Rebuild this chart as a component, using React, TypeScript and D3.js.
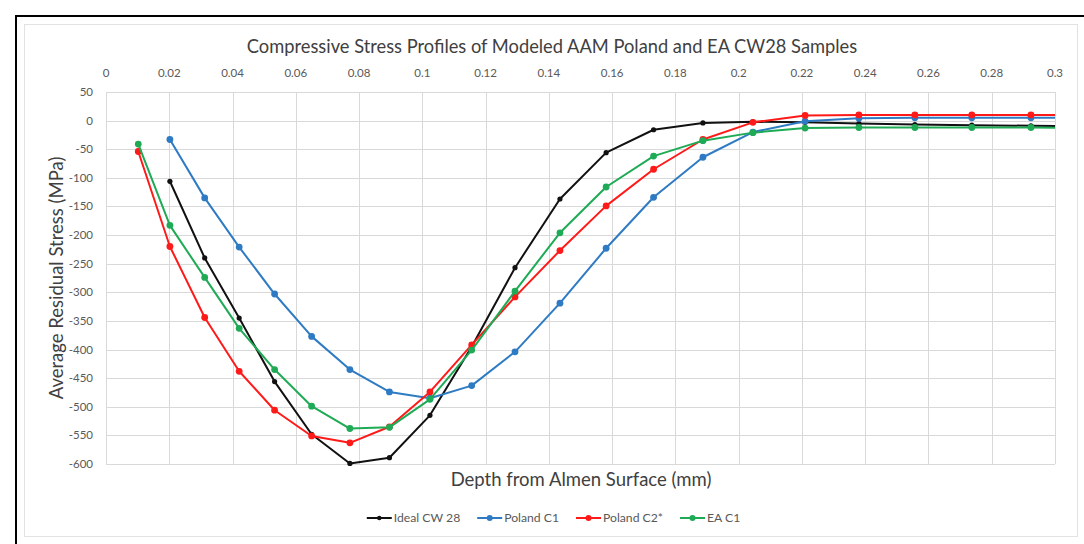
import React, { useEffect, useRef } from "react";
import * as d3 from "d3";

// Depth from the Almen surface (mm) at which each profile is sampled
const depths = [
  0.0102, 0.0202, 0.0312, 0.0421, 0.0533, 0.065, 0.0771, 0.0896, 0.1024, 0.1156, 0.1293,
  0.1435, 0.1581, 0.1731, 0.1887, 0.2045, 0.221, 0.238, 0.2557, 0.2737, 0.2924, 0.3118,
];

// Average residual stress (MPa); null where a profile has no sample
const idealCW28 = [
  null, -106, -240, -345, -456, -548, -599, -589, -515, -395, -257,
  -137, -56, -16, -4, -2, -3, -5, -7, -8, -9, -10,
];
const polandC1 = [
  null, -33, -135, -221, -303, -377, -435, -474, -485, -463, -404,
  -319, -223, -134, -64, -20, -1, 4, 5, 5, 5, 5,
];
const polandC2 = [
  -54, -220, -344, -438, -506, -551, -563, -535, -474, -392, -308,
  -227, -149, -85, -33, -3, 9, 10, 10, 10, 10, 10,
];
const eaC1 = [
  -41, -183, -274, -363, -435, -499, -538, -536, -487, -401, -298,
  -196, -116, -62, -35, -21, -13, -12, -12, -12, -12, -13,
];

const seriesNames = ["Ideal CW 28", "Poland C1", "Poland C2*", "EA C1"];
const seriesValues = [idealCW28, polandC1, polandC2, eaC1];
const seriesColors = ["#111111", "#2E7BC4", "#FF1A1A", "#1FAA55"];
const markerRadius = [2.6, 3.4, 3.4, 3.4];

const xTicks = [0, 0.02, 0.04, 0.06, 0.08, 0.1, 0.12, 0.14, 0.16, 0.18, 0.2, 0.22, 0.24, 0.26, 0.28, 0.3];
const yTicks = [50, 0, -50, -100, -150, -200, -250, -300, -350, -400, -450, -500, -550, -600];

const TITLE = "Compressive Stress Profiles of Modeled AAM Poland and EA CW28 Samples";
const X_TITLE = "Depth from Almen Surface (mm)";
const Y_TITLE = "Average Residual Stress (MPa)";

const W = 1084;
const H = 544;
const FONT = "Lato, 'Open Sans', sans-serif";

export default function App() {
  const ref = useRef<SVGSVGElement | null>(null);

  useEffect(() => {
    const svg = d3.select(ref.current);
    svg.selectAll("*").remove();

    const plot = { left: 106, right: 1055, top: 92, bottom: 464 };
    const x = d3.scaleLinear().domain([0, 0.3]).range([plot.left, plot.right]);
    const y = d3.scaleLinear().domain([-600, 50]).range([plot.bottom, plot.top]);

    svg.append("rect").attr("width", W).attr("height", H).attr("fill", "#fff");

    // outer frame and chart area border
    svg.append("rect")
      .attr("x", 16).attr("y", 16).attr("width", W + 40).attr("height", H + 40)
      .attr("fill", "none").attr("stroke", "#000").attr("stroke-width", 2);
    svg.append("rect")
      .attr("x", 24.5).attr("y", 24.5).attr("width", 1053).attr("height", 512)
      .attr("fill", "#fff").attr("stroke", "#e2e2e2").attr("stroke-width", 1);

    // title
    svg.append("text")
      .attr("x", 552).attr("y", 52.5)
      .attr("text-anchor", "middle")
      .attr("font-family", FONT).attr("font-size", 18.3).attr("fill", "#404040")
      .text(TITLE);

    // gridlines
    const grid = svg.append("g").attr("stroke", "#d9d9d9").attr("stroke-width", 1);
    grid.selectAll("line.v").data(xTicks).join("line")
      .attr("x1", (d) => Math.round(x(d)) + 0.5).attr("x2", (d) => Math.round(x(d)) + 0.5)
      .attr("y1", plot.top).attr("y2", plot.bottom);
    grid.selectAll("line.h").data(yTicks).join("line")
      .attr("y1", (d) => Math.round(y(d)) + 0.5).attr("y2", (d) => Math.round(y(d)) + 0.5)
      .attr("x1", plot.left).attr("x2", plot.right);

    // top x axis labels
    const fmtX = (d: number) => (d === 0 ? "0" : String(+d.toFixed(2)));
    svg.append("g").selectAll("text").data(xTicks).join("text")
      .attr("x", (d) => x(d)).attr("y", 77)
      .attr("text-anchor", "middle")
      .attr("font-family", FONT).attr("font-size", 11.5).attr("fill", "#595959")
      .text(fmtX);

    // left y axis labels
    svg.append("g").selectAll("text").data(yTicks).join("text")
      .attr("x", 93).attr("y", (d) => y(d) + 4)
      .attr("text-anchor", "end")
      .attr("font-family", FONT).attr("font-size", 11.5).attr("fill", "#595959")
      .text((d) => String(d));

    // axis titles
    svg.append("text")
      .attr("x", 581).attr("y", 486)
      .attr("text-anchor", "middle")
      .attr("font-family", FONT).attr("font-size", 18.5).attr("fill", "#404040")
      .text(X_TITLE);
    svg.append("text")
      .attr("transform", `translate(63, ${(plot.top + plot.bottom) / 2}) rotate(-90)`)
      .attr("text-anchor", "middle")
      .attr("font-family", FONT).attr("font-size", 18.5).attr("fill", "#404040")
      .text(Y_TITLE);

    // clip series to the plot area
    svg.append("defs").append("clipPath").attr("id", "plot-clip")
      .append("rect")
      .attr("x", plot.left).attr("y", plot.top - 6)
      .attr("width", plot.right - plot.left).attr("height", plot.bottom - plot.top + 12);

    const series = svg.append("g").attr("clip-path", "url(#plot-clip)");
    const line = d3.line<[number, number]>()
      .x((d) => x(d[0])).y((d) => y(d[1]));

    seriesValues.forEach((vals, i) => {
      const pts: [number, number][] = [];
      vals.forEach((v, j) => { if (v !== null) pts.push([depths[j], v as number]); });
      series.append("path")
        .attr("d", line(pts))
        .attr("fill", "none").attr("stroke", seriesColors[i])
        .attr("stroke-width", 2).attr("stroke-linejoin", "round");
      series.append("g").selectAll("circle")
        .data(pts.filter((p) => p[0] <= 0.3))
        .join("circle")
        .attr("cx", (d) => x(d[0])).attr("cy", (d) => y(d[1]))
        .attr("r", markerRadius[i]).attr("fill", seriesColors[i]);
    });

    // legend, centred under the plot
    const legend = svg.append("g");
    const items = seriesNames.map((name, i) => {
      const g = legend.append("g");
      g.append("line").attr("x1", 0).attr("x2", 25).attr("y1", 0).attr("y2", 0)
        .attr("stroke", seriesColors[i]).attr("stroke-width", 2);
      g.append("circle").attr("cx", 12.5).attr("cy", 0).attr("r", markerRadius[i] - 0.4)
        .attr("fill", seriesColors[i]);
      const t = g.append("text").attr("x", 27).attr("y", 4.2)
        .attr("font-family", FONT).attr("font-size", 12.2).attr("fill", "#595959")
        .text(name);
      const w = 27 + (t.node() as SVGTextElement).getComputedTextLength();
      return { g, w };
    });
    const gap = 17;
    const total = d3.sum(items, (d) => d.w) + gap * (items.length - 1);
    let cx = 553.5 - total / 2;
    items.forEach((it) => {
      it.g.attr("transform", `translate(${cx}, 518)`);
      cx += it.w + gap;
    });
  }, []);

  return (
    <svg
      ref={ref}
      width={W}
      height={H}
      style={{ position: "absolute", left: 0, top: 0, display: "block" }}
    />
  );
}
